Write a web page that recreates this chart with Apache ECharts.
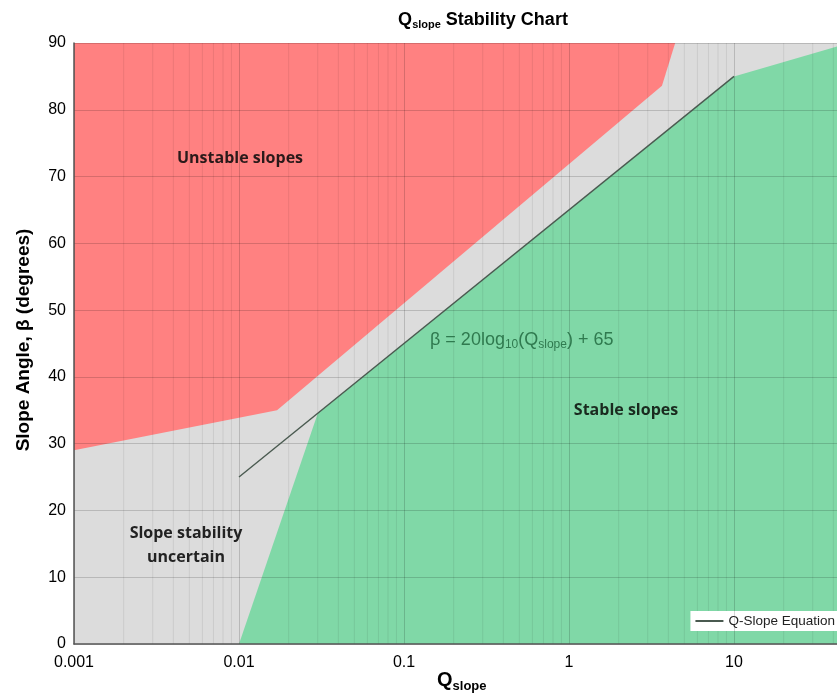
<!DOCTYPE html>
<html>
<head>
<meta charset="utf-8">
<script src="https://cdn.jsdelivr.net/npm/echarts@6/dist/echarts.min.js"></script>
<style>
  html, body { margin: 0; padding: 0; background: #fff; }
  #chart { width: 837px; height: 700px; }
</style>
</head>
<body>
<div id="chart"></div>
<script>
// Zone boundaries as [Qslope, slope angle in degrees]
const unstableZone = [[0.001, 90], [0.001, 29], [0.017, 35], [3.66, 83.6], [4.4, 90]];
const stableZone = [[0.01, 0], [0.03, 34.5], [10, 85], [50, 90], [100, 90], [100, 0]];
const uncertainZone = [[0.001, 0], [0.001, 90], [100, 90], [100, 0]];
// Q-slope equation line end points
const equationLine = [[0.01, 25], [10, 85]];
// Axis settings
const xTicks = [0.001, 0.01, 0.1, 1, 10, 100];
const yMin = 0, yMax = 90, yStep = 10;

const RED = '#ff8181';
const GREEN = '#80d8a7';
const GREY = '#dcdcdc';
const SANS = 'Liberation Sans, Arial, sans-serif';

function polygonSeries(name, pts, color, z) {
  return {
    name: name,
    type: 'custom',
    z: z,
    silent: true,
    data: [0],
    renderItem: function (params, api) {
      return {
        type: 'polygon',
        shape: { points: pts.map(p => api.coord(p)) },
        style: { fill: color }
      };
    }
  };
}

// minor log gridlines at 2..9 of each decade
const minorQ = [];
for (let d = 0; d < xTicks.length - 1; d++) {
  for (let k = 2; k <= 9; k++) minorQ.push(xTicks[d] * k);
}

const chart = echarts.init(document.getElementById('chart'), null, { renderer: 'canvas' });
chart.setOption({
  animation: false,
  backgroundColor: '#fff',
  textStyle: { fontFamily: SANS },
  grid: { left: 74, top: 43, bottom: 56, right: -62, outerBoundsMode: 'none', containLabel: false },
  xAxis: {
    type: 'log',
    logBase: 10,
    min: xTicks[0],
    max: xTicks[xTicks.length - 1],
    z: 4,
    axisLine: { show: true, onZero: false, lineStyle: { color: '#555', width: 1.5 } },
    axisTick: { show: false },
    axisLabel: {
      color: '#000', fontSize: 16, margin: 11,
      formatter: v => String(+v.toPrecision(6))
    },
    splitLine: { show: true, lineStyle: { color: 'rgba(0,0,0,0.16)', width: 1 } }
  },
  yAxis: {
    type: 'value',
    min: yMin, max: yMax, interval: yStep,
    z: 4,
    axisLine: { show: true, onZero: false, lineStyle: { color: '#555', width: 1.5 } },
    axisTick: { show: false },
    axisLabel: { color: '#000', fontSize: 16, margin: 8 },
    splitLine: { show: true, lineStyle: { color: 'rgba(0,0,0,0.16)', width: 1 } }
  },
  legend: {
    data: ['Q-Slope Equation'],
    right: 0,
    top: 611,
    backgroundColor: '#ffffff',
    padding: [3, 2, 3, 4],
    itemWidth: 28,
    itemHeight: 2,
    itemGap: 4,
    textStyle: { fontSize: 13.5, color: '#222', fontFamily: SANS }
  },
  series: [
    polygonSeries('uncertain', uncertainZone, GREY, 1),
    polygonSeries('unstable', unstableZone, RED, 2),
    polygonSeries('stable', stableZone, GREEN, 2),
    {
      name: 'minor grid',
      type: 'custom',
      z: 3,
      silent: true,
      data: minorQ,
      renderItem: function (params, api) {
        const q = api.value(0);
        const a = api.coord([q, yMin]);
        const b = api.coord([q, yMax]);
        return {
          type: 'line',
          shape: { x1: a[0], y1: a[1], x2: b[0], y2: b[1] },
          style: { stroke: 'rgba(0,0,0,0.08)', lineWidth: 1 }
        };
      }
    },
    {
      name: 'Q-Slope Equation',
      type: 'line',
      z: 6,
      data: equationLine,
      symbol: 'none',
      lineStyle: { color: '#4a5a50', width: 1.4 },
      itemStyle: { color: '#4a5a50' }
    }
  ],
  graphic: [
    {
      type: 'text', x: 483, y: 20, z: 10,
      style: {
        text: '{q|Q}{s|slope}{q| Stability Chart}',
        align: 'center', verticalAlign: 'middle',
        rich: {
          q: { fontSize: 18, fontWeight: 'bold', fill: '#000', fontFamily: SANS },
          s: { fontSize: 11, fontWeight: 'bold', fill: '#000', fontFamily: SANS, padding: [10, 0, 0, 0] }
        }
      }
    },
    {
      type: 'text', x: 437, y: 668, z: 10,
      style: {
        text: '{q|Q}{s|slope}',
        rich: {
          q: { fontSize: 20, fontWeight: 'bold', fill: '#000', fontFamily: SANS },
          s: { fontSize: 13, fontWeight: 'bold', fill: '#000', fontFamily: SANS, padding: [12, 0, 0, 0] }
        }
      }
    },
    {
      type: 'text', x: 24, y: 340, rotation: Math.PI / 2, z: 10,
      style: {
        text: 'Slope Angle, β (degrees)',
        fontSize: 19, fontWeight: 'bold', fill: '#000',
        fontFamily: SANS,
        align: 'center', verticalAlign: 'middle'
      }
    },
    {
      type: 'text', x: 240, y: 158, z: 10,
      style: {
        text: 'Unstable slopes', fontSize: 16, fontWeight: 'bold', fill: '#2a1a1a',
        fontFamily: 'Open Sans, sans-serif', align: 'center', verticalAlign: 'middle'
      }
    },
    {
      type: 'text', x: 186, y: 545, z: 10,
      style: {
        text: 'Slope stability\nuncertain', fontSize: 16, fontWeight: 'bold', fill: '#222',
        lineHeight: 24,
        fontFamily: 'Open Sans, sans-serif', align: 'center', verticalAlign: 'middle'
      }
    },
    {
      type: 'text', x: 626, y: 410, z: 10,
      style: {
        text: 'Stable slopes', fontSize: 16, fontWeight: 'bold', fill: '#1a2a1f',
        fontFamily: 'Open Sans, sans-serif', align: 'center', verticalAlign: 'middle'
      }
    },
    {
      type: 'text', x: 430, y: 330, z: 10,
      style: {
        text: '{t|β = 20log}{s|10}{t|(Q}{s|slope}{t|) + 65}',
        rich: {
          t: { fontSize: 18, fill: '#2f7a4f', fontFamily: SANS },
          s: { fontSize: 12, fill: '#2f7a4f', fontFamily: SANS, padding: [9, 0, 0, 0] }
        }
      }
    }
  ]
});
</script>
</body>
</html>
